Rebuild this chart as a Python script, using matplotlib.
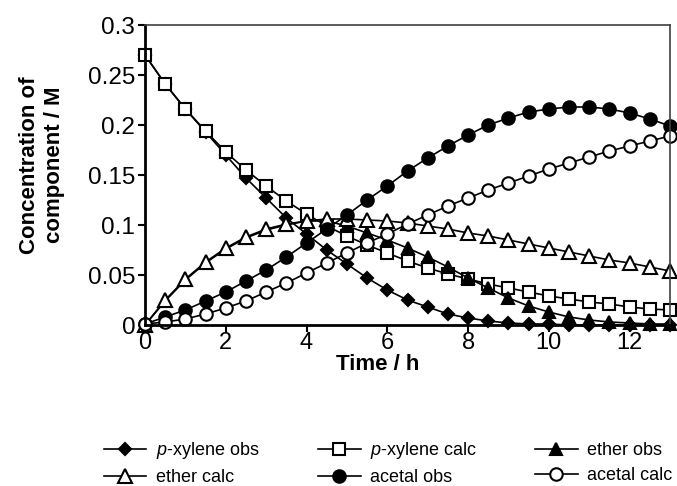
import matplotlib
matplotlib.use("Agg")
import matplotlib.pyplot as plt

plt.rcParams['font.family'] = ['Liberation Sans', 'DejaVu Sans']
plt.rcParams['mathtext.fontset'] = 'custom'
plt.rcParams['mathtext.it'] = 'Liberation Sans:italic'
plt.rcParams['mathtext.rm'] = 'Liberation Sans'

time_h = [0, 0.5, 1, 1.5, 2, 2.5, 3, 3.5, 4, 4.5, 5, 5.5, 6, 6.5, 7, 7.5, 8, 8.5,
          9, 9.5, 10, 10.5, 11, 11.5, 12, 12.5, 13]

pxylene_obs = [0.270, 0.241, 0.216, 0.193, 0.170, 0.147, 0.127, 0.107, 0.091, 0.075,
               0.061, 0.047, 0.035, 0.025, 0.018, 0.011, 0.007, 0.004, 0.002, 0.001,
               0.001, 0.0, 0.0, 0.0, 0.0, 0.0, 0.0]
pxylene_calc = [0.270, 0.241, 0.216, 0.194, 0.173, 0.155, 0.139, 0.124, 0.111, 0.099,
                0.089, 0.080, 0.072, 0.064, 0.057, 0.051, 0.046, 0.041, 0.037, 0.033,
                0.029, 0.026, 0.023, 0.021, 0.018, 0.016, 0.015]
ether_obs = [0.0, 0.024, 0.045, 0.062, 0.076, 0.087, 0.095, 0.100, 0.104, 0.104,
             0.099, 0.092, 0.085, 0.077, 0.068, 0.058, 0.047, 0.037, 0.027, 0.019,
             0.013, 0.008, 0.005, 0.003, 0.002, 0.001, 0.001]
ether_calc = [0.0, 0.025, 0.046, 0.063, 0.077, 0.088, 0.096, 0.101, 0.104, 0.106,
              0.106, 0.105, 0.104, 0.102, 0.099, 0.096, 0.092, 0.089, 0.085, 0.081,
              0.077, 0.073, 0.069, 0.065, 0.062, 0.058, 0.054]
acetal_obs = [0.001, 0.008, 0.015, 0.024, 0.033, 0.044, 0.055, 0.068, 0.082, 0.096,
              0.110, 0.125, 0.139, 0.154, 0.167, 0.179, 0.190, 0.200, 0.207, 0.213,
              0.216, 0.218, 0.218, 0.216, 0.212, 0.206, 0.199]
acetal_calc = [0.001, 0.003, 0.006, 0.011, 0.017, 0.024, 0.033, 0.042, 0.052, 0.062,
               0.072, 0.082, 0.091, 0.101, 0.110, 0.119, 0.127, 0.135, 0.142, 0.149,
               0.156, 0.162, 0.168, 0.174, 0.179, 0.184, 0.189]

labels = [r'$\it{p}$-xylene obs', r'$\it{p}$-xylene calc', 'ether obs',
          'ether calc', 'acetal obs', 'acetal calc']
x_ticks = [0, 2, 4, 6, 8, 10, 12]
y_ticks = [0, 0.05, 0.1, 0.15, 0.2, 0.25, 0.3]
y_tick_labels = ['0', '0.05', '0.1', '0.15', '0.2', '0.25', '0.3']

fig = plt.figure(figsize=(6.77, 4.86), dpi=100)
ax = fig.add_axes([145/677, 161/486, 525/677, 300/486])

lw = 1.2
mew = 1.5
styles = [
    (pxylene_obs, dict(marker='D', ms=6.5, mfc='black', mec='black')),
    (pxylene_calc, dict(marker='s', ms=9, mfc='white', mec='black')),
    (ether_obs, dict(marker='^', ms=9, mfc='black', mec='black')),
    (ether_calc, dict(marker='^', ms=9.5, mfc='white', mec='black')),
    (acetal_obs, dict(marker='o', ms=9, mfc='black', mec='black')),
    (acetal_calc, dict(marker='o', ms=9, mfc='white', mec='black')),
]
handles = []
for (vals, st), lab in zip(styles, labels):
    h, = ax.plot(time_h, vals, color='black', lw=lw, mew=mew, label=lab,
                 clip_on=False, **st)
    handles.append(h)

ax.set_xlim(0, 13)
ax.set_ylim(0, 0.3)
ax.set_xticks(x_ticks)
ax.set_xticklabels([str(t) for t in x_ticks])
ax.set_yticks(y_ticks)
ax.set_yticklabels(y_tick_labels)
ax.tick_params(direction='out', length=5, width=1.5, labelsize=17.5, pad=2,
               colors='black')
ax.tick_params(axis='x', pad=0, labelsize=17)
for side in ['left', 'bottom']:
    ax.spines[side].set_linewidth(2)
    ax.spines[side].set_color('black')
for side in ['top', 'right']:
    ax.spines[side].set_linewidth(1.2)
    ax.spines[side].set_color('#404040')

fig.text(378/677, 1 - 365/486, 'Time / h', ha='center', va='center',
         fontsize=16, fontweight='bold')
fig.text(42/677, 1 - 165/486, 'Concentration of\ncomponent / M', ha='center',
         va='center', rotation=90, fontsize=16, fontweight='bold',
         linespacing=1.2)

order = [0, 3, 1, 4, 2, 5]
leg = fig.legend([handles[i] for i in order], [labels[i] for i in order],
                 ncol=3, loc='center', bbox_to_anchor=(388/677, 1 - 463/486),
                 frameon=False, fontsize=13, handlelength=2.35,
                 handletextpad=0.5, columnspacing=3.25, labelspacing=0.45,
                 borderpad=0)

fig.savefig('out.png', dpi=100)
